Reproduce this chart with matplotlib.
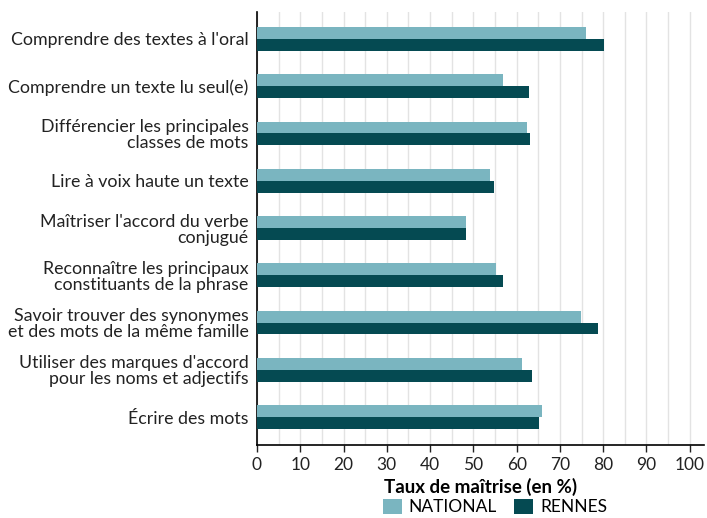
import matplotlib.pyplot as plt
import numpy as np

plt.rcParams['font.family'] = ['Lato', 'DejaVu Sans']

categories = [
    "Comprendre des textes à l'oral",
    "Comprendre un texte lu seul(e)",
    "Différencier les principales\nclasses de mots",
    "Lire à voix haute un texte",
    "Maîtriser l'accord du verbe\nconjugué",
    "Reconnaître les principaux\nconstituants de la phrase",
    "Savoir trouver des synonymes\net des mots de la même famille",
    "Utiliser des marques d'accord\npour les noms et adjectifs",
    "Écrire des mots",
]
national = [76.1, 56.9, 62.4, 53.9, 48.3, 55.3, 74.8, 61.2, 65.8]
rennes = [80.1, 62.9, 63.1, 54.8, 48.3, 56.9, 78.7, 63.5, 65.1]

col_nat = '#7AB5C0'
col_ren = '#054A52'

fig = plt.figure(figsize=(7.07, 5.18), dpi=100)
ax = fig.add_axes([257 / 707, 1 - 445 / 518, (704 - 257) / 707, (445 - 12) / 518])

y = np.arange(len(categories))
h = 0.25
ax.barh(y - h / 2, national, height=h, color=col_nat, label='NATIONAL', zorder=3)
ax.barh(y + h / 2, rennes, height=h, color=col_ren, label='RENNES', zorder=3)

ax.set_xlim(0, 103.3)
ax.set_ylim(8.59, -0.57)
ax.set_xticks(np.arange(0, 101, 10))
ax.set_xticks(np.arange(0, 101, 5), minor=True)
ax.tick_params(axis='x', which='major', labelsize=12.5, length=5, width=1, colors='#222222')
ax.tick_params(axis='x', which='minor', length=0)
ax.grid(axis='x', which='both', color='#E3E3E3', linewidth=1, zorder=0)
ax.set_yticks(y)
ax.set_yticklabels(categories, fontsize=12.8, color='#222222', linespacing=1.0)
ax.tick_params(axis='y', length=0, pad=6)

for s in ['top', 'right']:
    ax.spines[s].set_visible(False)
ax.spines['left'].set_linewidth(1.2)
ax.spines['bottom'].set_linewidth(1.2)

ax.set_xlabel('Taux de maîtrise (en %)', fontsize=13.5, fontweight='bold', labelpad=4)
fig.legend(loc='center', bbox_to_anchor=(495 / 707, 1 - 507 / 518),
           ncol=2, frameon=False, fontsize=12.5, handlelength=1.1, handleheight=1.0,
           columnspacing=1.0, handletextpad=0.4, borderaxespad=0)

fig.savefig('out.png', dpi=100)
